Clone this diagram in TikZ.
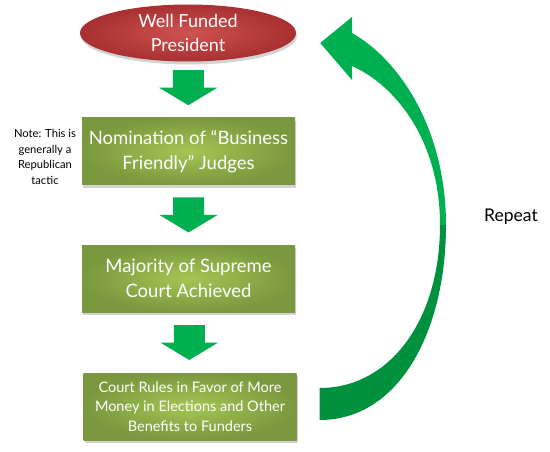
\documentclass[tikz,border=0pt]{standalone}
\usepackage{fontspec}
\setmainfont{Lato}
\usetikzlibrary{shapes.geometric,shadows,calc}
\definecolor{arrowgreen}{HTML}{00B050}
\definecolor{darkgreen}{HTML}{00913F}
\definecolor{boxin}{HTML}{A3C654}
\definecolor{boxout}{HTML}{7A983E}
\definecolor{redin}{HTML}{CF5252}
\definecolor{redout}{HTML}{A83030}
\tikzset{
  ell/.style={ellipse, minimum width=216pt, minimum height=57pt, inner sep=0pt,
    inner color=redin, outer color=redout, text=white, align=center,
    font=\fontsize{18}{24}\selectfont,
    drop shadow={shadow xshift=1pt, shadow yshift=-3pt, opacity=0.35}},
  box/.style={rectangle, minimum width=213pt, minimum height=67pt, inner sep=0pt,
    inner color=boxin, outer color=boxout, text=white, align=center,
    font=\fontsize{18.5}{25}\selectfont,
    drop shadow={shadow xshift=1pt, shadow yshift=-3pt, opacity=0.35}},
  smallbox/.style={box, font=\fontsize{14.5}{19.5}\selectfont},
  note/.style={align=center, font=\fontsize{11.2}{15.5}\selectfont, inner sep=0pt},
  downarrow/.pic={\fill[arrowgreen] (-15.5,-17.5) -- (15.5,-17.5) -- (15.5,0) -- (29,0)
     -- (0,17.5) -- (-29,0) -- (-15.5,0) -- cycle;}
}
\begin{document}
\begin{tikzpicture}[x=1pt,y=-1pt]
\useasboundingbox (0,0) rectangle (550,452);
\node[ell] (top) at (188,33) {Well Funded\\President};
\node[box] (b1) at (188.5,151.5) {Nomination of “Business\\Friendly” Judges};
\node[box] (b2) at (188.5,278.5) {Majority of Supreme\\Court Achieved};
\node[smallbox] (b3) at (190,406.5) {Court Rules in Favor of More\\Money in Elections and Other\\Benefits to Funders};
\node[note] (note) at (45,157) {Note: This is\\generally a\\Republican\\tactic};
\node[font=\fontsize{17.5}{20}\selectfont, inner sep=0pt] (rep) at (511,217) {Repeat};
\pic at ($(top.south)!0.5!(b1.north)+(0,-2)$) {downarrow};
\pic at ($(b1.south)!0.5!(b2.north)$) {downarrow};
\pic at ($(b2.south)!0.5!(b3.north)$) {downarrow};
% curved return arrow from b3 to top
\coordinate (tb) at ($(b3.east)+(23,13.5)$);
\coordinate (tt) at ($(b3.east)+(23,-18.5)$);
\coordinate (mo) at (446,225);
\coordinate (mi) at (440,225);
\coordinate (tip) at ($(top.east)+(24,10)$);
\fill[darkgreen] (tb) .. controls (400,420) and (446,330) .. (mo)
   -- (mi) .. controls (440,320) and (390,388) .. (tt) -- cycle;
\fill[arrowgreen] (mo) .. controls (446,130) and (400,60) .. (352,33)
   -- (352,17) -- (tip) -- (352,80) -- (352,66)
   .. controls (395,85) and (440,140) .. (mi) -- cycle;
\end{tikzpicture}
\end{document}
